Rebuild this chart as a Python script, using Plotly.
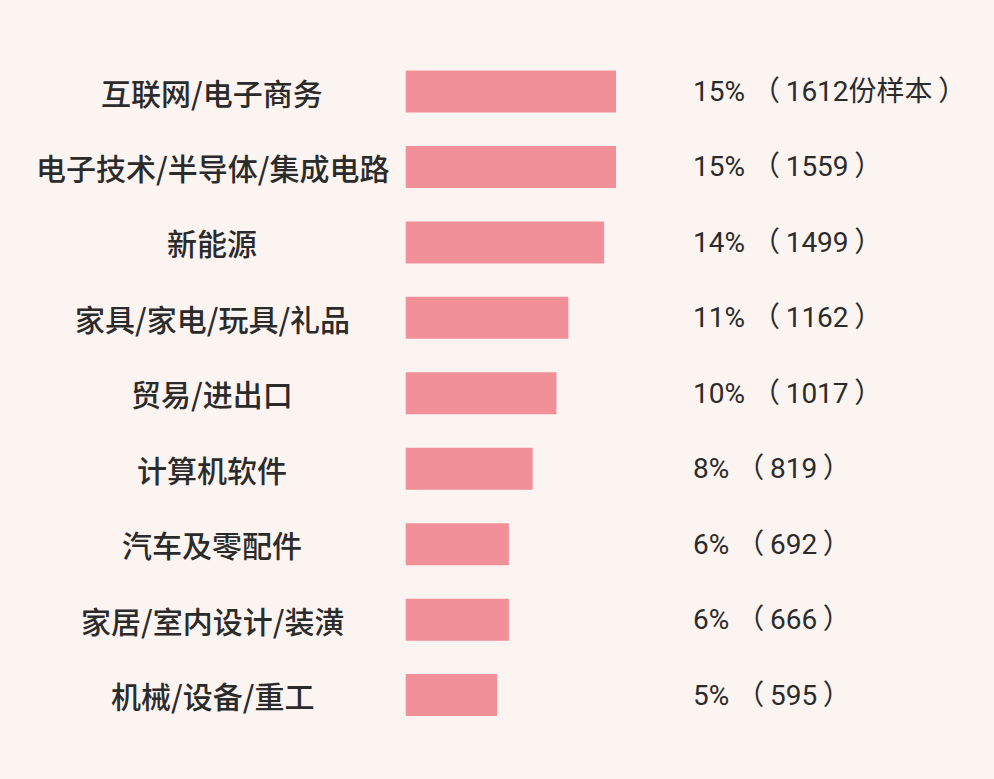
import plotly.graph_objects as go

categories = ["互联网/电子商务", "电子技术/半导体/集成电路", "新能源", "家具/家电/玩具/礼品",
              "贸易/进出口", "计算机软件", "汽车及零配件", "家居/室内设计/装潢", "机械/设备/重工"]
percents = [15, 15, 14, 11, 10, 8, 6, 6, 5]
counts = [1612, 1559, 1499, 1162, 1017, 819, 692, 666, 595]
count_suffix = ["份样本", "", "", "", "", "", "", "", ""]

BG = "#fbf4f1"
BAR = "#f2909a"
TXT = "#2b2b2b"
W, H = 994, 779

# pixel mapping helpers (layout only)
k = 11.9
p0 = 437.5
bar_base = (405.7 - p0) / k
xr = [(0 - p0) / k, (W - p0) / k]
step = 75.45
c0 = 91.5
yr = [(H - c0) / step, (0 - c0) / step]

NB = "\u00a0"
TH = "\u2009"
idx = list(range(len(categories)))
fig = go.Figure()
fig.add_trace(go.Bar(
    x=[p - bar_base for p in percents], y=idx, base=bar_base, orientation="h",
    marker=dict(color=BAR, line=dict(width=0)), width=0.557, hoverinfo="skip",
))

for i, (c, p, n, s) in enumerate(zip(categories, percents, counts, count_suffix)):
    fig.add_annotation(x=212 / W, xref="paper", y=i, yref="y", text=c, showarrow=False,
                       xanchor="center", yanchor="middle",
                       font=dict(family="Noto Sans CJK SC", size=30, color=TXT, weight=500))
    fig.add_annotation(x=691 / W, xref="paper", y=i, yref="y",
                       text=f"{p}%{NB}（{TH}{n}{s}{TH}）", showarrow=False,
                       xanchor="left", yanchor="middle",
                       font=dict(family="Roboto, Noto Sans CJK SC", size=28, color=TXT))

fig.update_layout(
    width=W, height=H, margin=dict(l=0, r=0, t=0, b=0),
    paper_bgcolor=BG, plot_bgcolor=BG, showlegend=False,
    xaxis=dict(range=xr, visible=False, fixedrange=True),
    yaxis=dict(range=yr, visible=False, fixedrange=True),
)
fig.write_html(
    "out.html",
    config={"displayModeBar": False},
    post_script="document.body.style.margin='0';document.body.style.overflow='hidden';"
                "document.body.style.background='" + BG + "';",
)
